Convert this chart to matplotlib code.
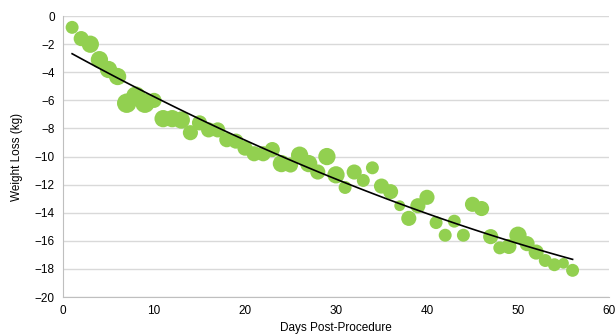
import numpy as np
import matplotlib.pyplot as plt

plt.rcParams['font.family'] = ['Liberation Sans', 'DejaVu Sans']

# data
days = list(range(1, 57))
weight_loss = [-0.8, -1.6, -2.0, -3.1, -3.8, -4.3, -6.2, -5.7, -6.2, -6.0,
               -7.3, -7.3, -7.4, -8.3, -7.6, -8.1, -8.1, -8.8, -8.9, -9.4,
               -9.8, -9.8, -9.5, -10.5, -10.6, -9.9, -10.5, -11.1, -10.0, -11.3,
               -12.2, -11.1, -11.7, -10.8, -12.1, -12.5, -13.5, -14.4, -13.5, -12.9,
               -14.7, -15.6, -14.6, -15.6, -13.4, -13.7, -15.7, -16.5, -16.4, -15.6,
               -16.2, -16.8, -17.4, -17.7, -17.6, -18.1]
# bubble size (approx radius in px)
bubble = [6, 7, 8, 8, 8, 8, 9, 9, 9, 7,
          8, 8, 8, 7, 7, 7, 7, 7, 7, 7,
          7, 7, 7, 8, 7, 8, 8, 7, 8, 8,
          6, 7, 6, 6, 7, 7, 5, 7, 7, 7,
          6, 6, 6, 6, 7, 7, 7, 6, 7, 8,
          7, 7, 6, 6, 5, 6]

x = np.array(days)
y = np.array(weight_loss)
r = np.array(bubble) * 1.08

fig = plt.figure(figsize=(6.16, 3.36), dpi=100)
ax = fig.add_axes([0.1023, 0.116, 0.8863, 0.836])

ax.scatter(x, y, s=(1.44 * r) ** 2, color='#92D050', edgecolors='none', zorder=3)

# trendline
coef = np.polyfit(x, y, 2)
xt = np.linspace(1, 56, 100)
ax.plot(xt, np.polyval(coef, xt), color='black', lw=1.2, zorder=4)

ax.set_xlim(0, 60)
ax.set_ylim(-20, 0)
ax.set_xticks(range(0, 61, 10))
ax.set_yticks(range(-20, 1, 2))
ax.grid(axis='y', color='#D9D9D9', lw=1)
ax.set_axisbelow(True)
for s in ['top', 'right']:
    ax.spines[s].set_visible(False)
for s in ['left', 'bottom']:
    ax.spines[s].set_color('#BFBFBF')
ax.tick_params(length=0, labelsize=8.5, labelcolor='black', pad=6)

ax.set_xlabel('Days Post-Procedure', fontsize=8.5, labelpad=3)
ax.set_ylabel('Weight Loss (kg)', fontsize=8.5, labelpad=8)

fig.savefig('out.png', dpi=100)
